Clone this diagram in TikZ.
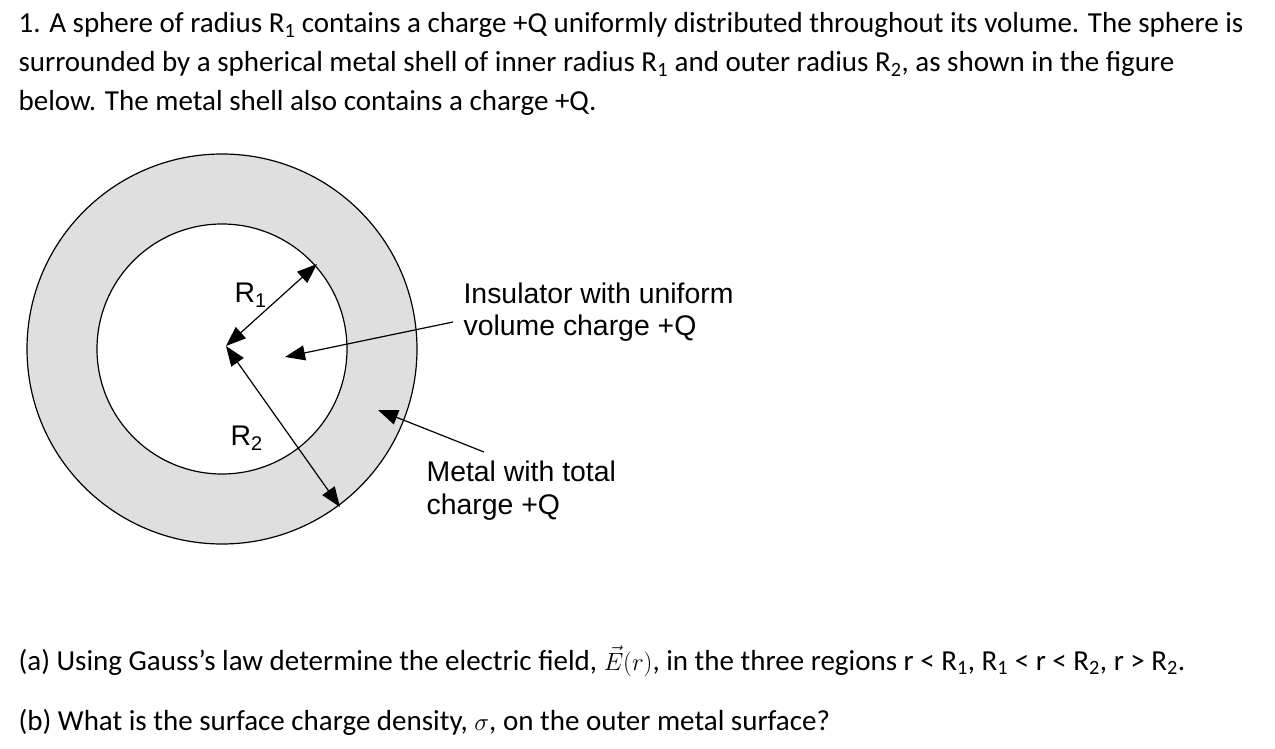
\documentclass[tikz,border=0pt]{standalone}
\usepackage{fontspec}
\setmainfont{Carlito}
\newfontfamily\arialfont{Liberation Sans}
\usetikzlibrary{arrows.meta}
\tikzset{
	txt/.style = {anchor = base west, inner sep = 0, font = \fontsize{29}{34}\selectfont},
	lbl/.style = {anchor = base west, inner sep = 0, font = \arialfont\fontsize{28.4}{33}\selectfont},
	tip/.style = {-{Triangle[length=20pt,width=15pt]}},
	dtip/.style = {{Triangle[length=20pt,width=15pt]}-{Triangle[length=20pt,width=15pt]}}
}
\begin{document}
\begin{tikzpicture}[x = 1pt, y = -1pt, line width = 1.2pt]
					\useasboundingbox (0, 0) rectangle (1275, 749);

					\node [txt] (l1) at (18, 33) {1. A sphere of radius R\textsubscript{1} contains a charge +Q uniformly distributed throughout its volume. The sphere is};
					\node [txt] (l2) at (18, 72) {surrounded by a spherical metal shell of inner radius R\textsubscript{1} and outer radius R\textsubscript{2}, as shown in the figure};
					\node [txt] (l3) at (18, 111) {below. The metal shell also contains a charge +Q.};

					\fill [gray!25] (222, 349) circle [radius = 195];
					\fill [white] (222, 349) circle [radius = 125];
					\draw (222, 349) circle [radius = 195];
					\draw (222, 349) circle [radius = 125];

					\coordinate (c) at (226, 346);
					\coordinate (r1) at (317, 264);
					\coordinate (r2) at (340, 507);
					\coordinate (ins) at (285, 357);
					\coordinate (met) at (378, 410);
					\coordinate (is) at (453, 322);
					\coordinate (ms) at (484, 452);

					\draw [dtip] (c) to (r1);
					\draw [dtip] (c) to (r2);

					\node [lbl] (nr1) at (234, 302) {R\textsubscript{1}};
					\node [lbl] (nr2) at (230, 445) {R\textsubscript{2}};

					\node [lbl] (ia) at (463, 303) {Insulator with uniform};
					\node [lbl] (ib) at (463, 335) {volume charge +Q};
					\node [lbl] (ma) at (426, 481) {Metal with total};
					\node [lbl] (mb) at (426, 514) {charge +Q};

					\draw [tip] (is) to (ins);
					\draw [tip] (ms) to (met);

					\node [txt] (qa) at (18, 670) {(a) Using Gauss’s law determine the electric field, $\vec{E}(r)$, in the three regions r < R\textsubscript{1}, R\textsubscript{1} < r < R\textsubscript{2}, r > R\textsubscript{2}.};
					\node [txt] (qb) at (18, 730) {(b) What is the surface charge density, $\sigma$, on the outer metal surface?};
				\end{tikzpicture}
\end{document}
